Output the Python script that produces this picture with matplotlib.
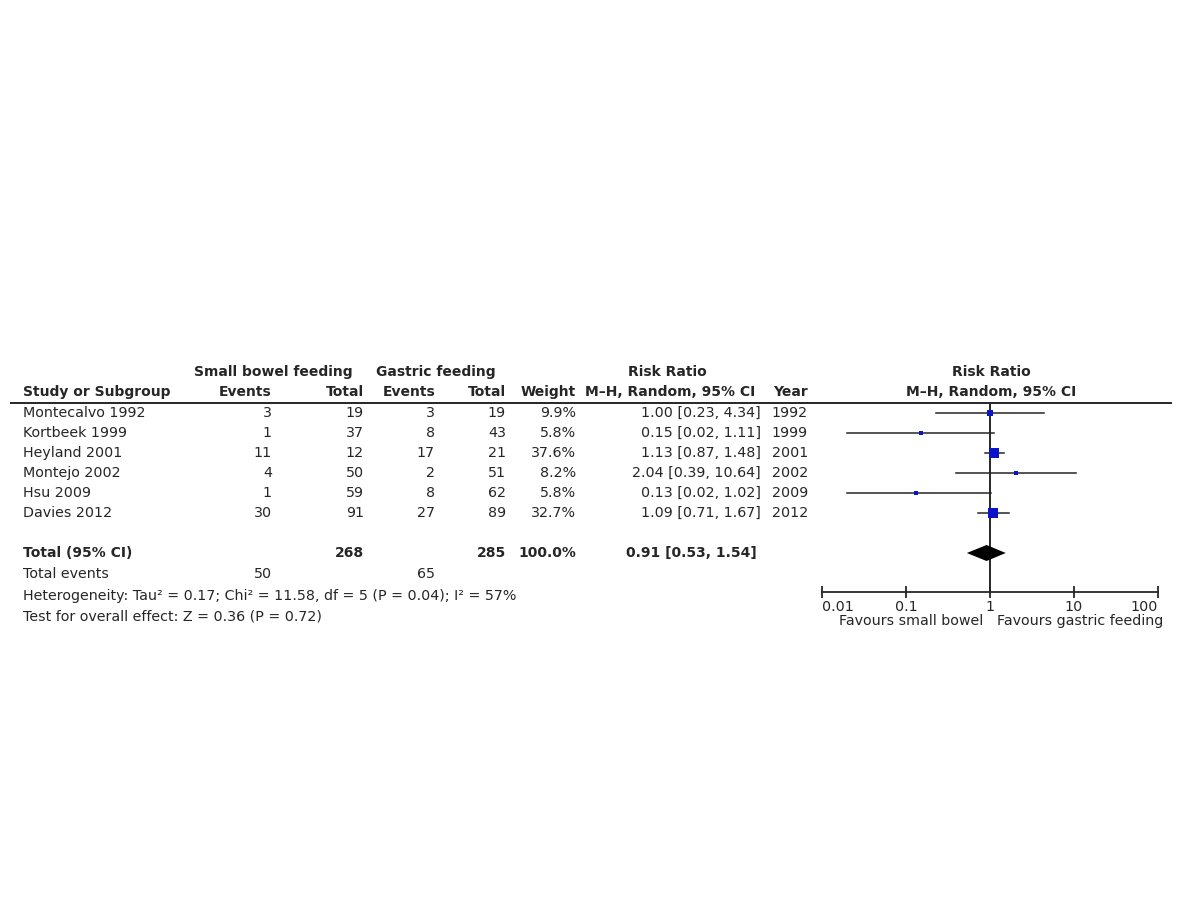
import matplotlib
matplotlib.use("Agg")
import matplotlib.pyplot as plt
import numpy as np

# study data
studies = ["Montecalvo 1992", "Kortbeek 1999", "Heyland 2001",
           "Montejo 2002", "Hsu 2009", "Davies 2012"]
sb_events = [3, 1, 11, 4, 1, 30]
sb_total = [19, 37, 12, 50, 59, 91]
gf_events = [3, 8, 17, 2, 8, 27]
gf_total = [19, 43, 21, 51, 62, 89]
weights = [9.9, 5.8, 37.6, 8.2, 5.8, 32.7]
rr = [1.00, 0.15, 1.13, 2.04, 0.13, 1.09]
rr_lo = [0.23, 0.02, 0.87, 0.39, 0.02, 0.71]
rr_hi = [4.34, 1.11, 1.48, 10.64, 1.02, 1.67]
years = [1992, 1999, 2001, 2002, 2009, 2012]

# pooled
pooled = [0.91, 0.53, 1.54]
sb_sum_total, gf_sum_total = 268, 285
sb_sum_events, gf_sum_events = 50, 65
tick_vals = [0.01, 0.1, 1, 10, 100]
tick_labels = ["0.01", "0.1", "1", "10", "100"]

FS = 10.3
BLUE = "#0a14c8"
INK = "#262626"

fig = plt.figure(figsize=(12, 9), dpi=100)

# text layer in pixel coordinates
ax = fig.add_axes([0, 0, 1, 1])
ax.set_xlim(0, 1200)
ax.set_ylim(900, 0)
ax.axis("off")

def t(x, y, s, ha="left", bold=False):
    ax.text(x, y, s, ha=ha, va="center", fontsize=FS - 0.3 if bold else FS,
            fontweight="bold" if bold else "normal", color=INK)

# column positions (right edges unless noted)
X_NAME = 23
X_SBE, X_SBT = 272, 364
X_GFE, X_GFT = 435, 506
X_W = 576
X_RR = 761
X_YEAR = 808
X_PLOT = 991

Y_H1, Y_H2 = 372, 392
Y_RULE = 403
row_y = [413 + 20 * i for i in range(len(studies))]
Y_TOT = 553

# headers
t(273, Y_H1, "Small bowel feeding", ha="center", bold=True)
t(436, Y_H1, "Gastric feeding", ha="center", bold=True)
t(667, Y_H1, "Risk Ratio", ha="center", bold=True)
t(X_PLOT, Y_H1, "Risk Ratio", ha="center", bold=True)
t(X_NAME, Y_H2, "Study or Subgroup", bold=True)
t(X_SBE, Y_H2, "Events", ha="right", bold=True)
t(X_SBT, Y_H2, "Total", ha="right", bold=True)
t(X_GFE, Y_H2, "Events", ha="right", bold=True)
t(X_GFT, Y_H2, "Total", ha="right", bold=True)
t(X_W, Y_H2, "Weight", ha="right", bold=True)
t(670, Y_H2, "M\u2013H, Random, 95% CI", ha="center", bold=True)
t(X_YEAR, Y_H2, "Year", ha="right", bold=True)
t(X_PLOT, Y_H2, "M\u2013H, Random, 95% CI", ha="center", bold=True)

ax.hlines(Y_RULE, 10, 1172, color=INK, lw=1.4)

# study rows
for i, y in enumerate(row_y):
    t(X_NAME, y, studies[i])
    t(X_SBE, y, str(sb_events[i]), ha="right")
    t(X_SBT, y, str(sb_total[i]), ha="right")
    t(X_GFE, y, str(gf_events[i]), ha="right")
    t(X_GFT, y, str(gf_total[i]), ha="right")
    t(X_W, y, "%.1f%%" % weights[i], ha="right")
    t(X_RR, y, "%.2f [%.2f, %.2f]" % (rr[i], rr_lo[i], rr_hi[i]), ha="right")
    t(X_YEAR, y, str(years[i]), ha="right")

# totals
t(X_NAME, Y_TOT, "Total (95% CI)", bold=True)
t(X_SBT, Y_TOT, str(sb_sum_total), ha="right", bold=True)
t(X_GFT, Y_TOT, str(gf_sum_total), ha="right", bold=True)
t(X_W, Y_TOT, "%.1f%%" % sum(weights), ha="right", bold=True)
t(757, Y_TOT, "%.2f [%.2f, %.2f]" % tuple(pooled), ha="right", bold=True)
t(X_NAME, 574, "Total events")
t(X_SBE, 574, str(sb_sum_events), ha="right")
t(X_GFE, 574, str(gf_sum_events), ha="right")
t(X_NAME, 596, "Heterogeneity: Tau\u00b2 = 0.17; Chi\u00b2 = 11.58, df = 5 (P = 0.04); I\u00b2 = 57%")
t(X_NAME, 616, "Test for overall effect: Z = 0.36 (P = 0.72)")

# forest plot axes, y in the same pixel units as the text layer
Y_AXIS = 592
fx = fig.add_axes([822 / 1200, (900 - Y_AXIS) / 900,
                   (1158 - 822) / 1200, (Y_AXIS - Y_RULE) / 900])
fx.set_xscale("log")
fx.set_xlim(0.01, 100)
fx.set_ylim(Y_AXIS, Y_RULE)
fx.patch.set_alpha(0)

fx.axvline(1, color=INK, lw=1.4, zorder=1)
for i, y in enumerate(row_y):
    fx.plot([rr_lo[i], rr_hi[i]], [y, y], color=INK, lw=1.1, zorder=2)
    fx.plot(rr[i], y, marker="s", color=BLUE, ms=1.6 * np.sqrt(weights[i]) * 0.72,
            mew=0, zorder=3)

est, lo, hi = pooled
fx.fill([lo, est, hi, est], [Y_TOT, Y_TOT - 8, Y_TOT, Y_TOT + 8],
        color="black", lw=0, zorder=3)

for s in ["top", "left", "right"]:
    fx.spines[s].set_visible(False)
fx.spines["bottom"].set_linewidth(1.3)
fx.spines["bottom"].set_color(INK)
fx.set_yticks([])
fx.set_xticks(tick_vals)
fx.set_xticklabels(tick_labels)
fx.minorticks_off()
fx.tick_params(axis="x", direction="inout", length=9, width=1.3,
               pad=1, labelsize=FS, colors=INK)
lbls = fx.get_xticklabels()
lbls[0].set_ha("left")
lbls[-1].set_ha("right")

t(983, 621, "Favours small bowel", ha="right")
t(997, 621, "Favours gastric feeding", ha="left")

fig.savefig("out.png", dpi=100, facecolor="white")
